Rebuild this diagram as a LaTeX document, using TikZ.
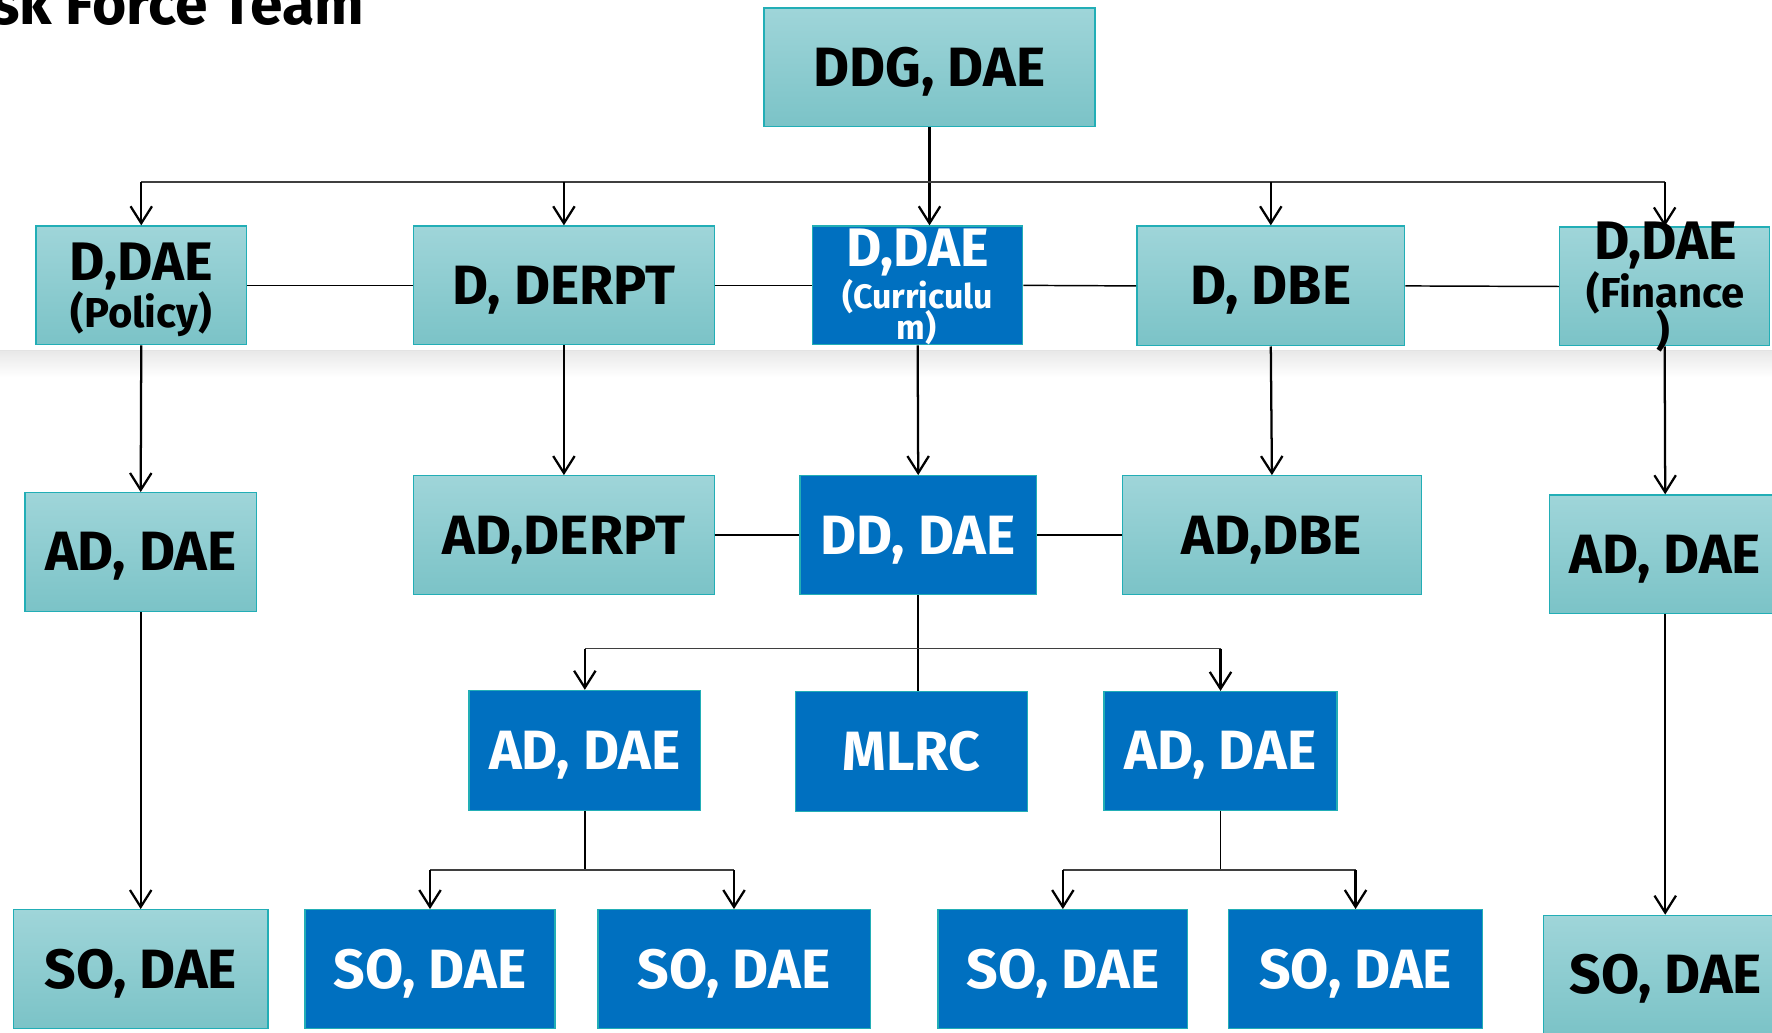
\documentclass[tikz,border=0pt]{standalone}
\usepackage{fontspec}
\setmainfont{Fira Sans}
\usetikzlibrary{arrows.meta}
\definecolor{tealtop}{HTML}{9FD5D9}
\definecolor{tealbot}{HTML}{7BC3C7}
\definecolor{tealedge}{HTML}{22AEB6}
\definecolor{bluefill}{HTML}{0070C0}
\definecolor{busgray}{HTML}{3F3F3F}
\tikzset{
  boxbase/.style={inner sep=0pt, line width=1.2pt, draw=tealedge, align=center,
    font=\bfseries\fontsize{49}{49}\selectfont, text height=33.5pt, text depth=0pt},
  tealbox/.style={boxbase, top color=tealtop, bottom color=tealbot, text=black},
  bluebox/.style={boxbase, fill=bluefill, text=white},
  bigtxt/.style={inner sep=0pt, anchor=base, font=\bfseries\fontsize{48}{48}\selectfont},
  midtxt/.style={inner sep=0pt, anchor=base, font=\bfseries\fontsize{37}{37}\selectfont},
  smalltxt/.style={inner sep=0pt, anchor=base, font=\bfseries\fontsize{30}{30}\selectfont},
  arr/.style={line width=2pt, black, -{Straight Barb[length=15pt,width=19pt,line width=2pt]}},
  busline/.style={line width=1.4pt, busgray},
  link/.style={line width=1.3pt, black},
}
\newcommand{\bx}[7]{% style, name, x1, y1, x2, y2, text
  \node[#1, minimum width=#5pt-#3pt, minimum height=#6pt-#4pt] (#2) at ({(#3+#5)/2},{(#4+#6)/2}) {#7};}
\begin{document}
\begin{tikzpicture}[x=1pt,y=-1pt]
\useasboundingbox (0,0) rectangle (1568,914);
\fill[white] (0,0) rectangle (1568,914);
% faint band
\shade[top color=black!9, bottom color=white] (0,310) rectangle (1568,334);
\draw[black!11, line width=1pt] (0,310) -- (1568,310);
% title
\node[inner sep=0pt, anchor=base west, font=\bfseries\fontsize{52}{52}\selectfont] (title) at (-8,22) {sk Force Team};
% boxes
\bx{tealbox}{ddg}{676}{7}{969}{112}{DDG, DAE}
\bx{tealbox}{pol}{32}{200}{218}{305}{}
\bx{tealbox}{derpt}{366}{200}{632}{305}{D, DERPT}
\bx{bluebox}{cur}{719}{200}{905}{305}{}
\bx{tealbox}{dbe}{1006}{200}{1243}{306}{D, DBE}
\bx{tealbox}{fin}{1380}{201}{1566}{306}{}
\bx{tealbox}{adl}{22}{436}{227}{541}{AD, DAE}
\bx{tealbox}{adderpt}{366}{421}{632}{526}{AD,DERPT}
\bx{bluebox}{dd}{708}{421}{917}{526}{DD, DAE}
\bx{tealbox}{addbe}{993}{421}{1258}{526}{AD,DBE}
\bx{tealbox}{adr}{1371}{438}{1576}{543}{AD, DAE}
\bx{bluebox}{adone}{415}{611}{620}{717}{AD, DAE}
\bx{bluebox}{mlrc}{704}{612}{909}{718}{MLRC}
\bx{bluebox}{adtwo}{977}{612}{1183}{717}{AD, DAE}
\bx{tealbox}{soone}{12}{805}{237}{910}{SO, DAE}
\bx{bluebox}{sotwo}{270}{805}{491}{910}{SO, DAE}
\bx{bluebox}{sothree}{529}{805}{770}{910}{SO, DAE}
\bx{bluebox}{sofour}{830}{805}{1051}{910}{SO, DAE}
\bx{bluebox}{sofive}{1087}{805}{1312}{910}{SO, DAE}
\bx{tealbox}{sosix}{1366}{810}{1582}{915}{SO, DAE}
% multi-line texts
\node[bigtxt] (polA) at (125,248) {D,DAE};
\node[midtxt] (polB) at (125,290) {(Policy)};
\node[bigtxt, text=white] (curA) at (812,236) {D,DAE};
\node[smalltxt, text=white] (curB) at (812,273) {(Curriculu};
\node[smalltxt, text=white] (curC) at (811,300) {m)};
\node[bigtxt] (finA) at (1474,230) {D,DAE};
\node[midtxt] (finB) at (1474,272) {(Finance};
\node[midtxt] (finC) at (1472,306) {)};
% top level
\coordinate (busA) at (0,161);
\draw[arr] (ddg.south) -- (ddg.south |- cur.north);
\draw[busline] (pol.north |- busA) -- (fin.north |- busA);
\draw[arr] (pol.north |- busA) -- (pol.north);
\draw[arr] (derpt.north |- busA) -- (derpt.north);
\draw[arr] (dbe.north |- busA) -- (dbe.north);
\draw[arr] (fin.north |- busA) -- (fin.north);
% row 2 links
\draw[link] (pol.east) -- (derpt.west);
\draw[link] (derpt.east) -- (cur.west);
\draw[link] (cur.east) -- (dbe.west);
\draw[link] (dbe.east) -- (fin.west);
% row 2 -> row 3
\draw[arr] (pol.south) -- (adl.north);
\draw[arr] (derpt.south) -- (adderpt.north);
\draw[arr] (cur.south) -- (dd.north);
\draw[arr] (dbe.south) -- (addbe.north);
\draw[arr] (fin.south) -- (adr.north);
% row 3 links
\draw[link] (adderpt.east) -- (dd.west);
\draw[link] (dd.east) -- (addbe.west);
% row 3 -> row 4
\coordinate (busB) at (0,574);
\draw[link] (dd.south) -- (dd.south |- mlrc.north);
\draw[busline] (adone.north |- busB) -- (adtwo.north |- busB);
\draw[arr] (adone.north |- busB) -- (adone.north);
\draw[arr] (adtwo.north |- busB) -- (adtwo.north);
% row 4 -> row 5
\coordinate (busC) at (0,770);
\draw[link] (adone.south) -- (adone.south |- busC);
\draw[busline] (sotwo.north |- busC) -- (sothree.north |- busC);
\draw[arr] (sotwo.north |- busC) -- (sotwo.north);
\draw[arr] (sothree.north |- busC) -- (sothree.north);
\draw[link] (adtwo.south) -- (adtwo.south |- busC);
\draw[busline] (sofour.north |- busC) -- (sofive.north |- busC);
\draw[arr] (sofour.north |- busC) -- (sofour.north);
\draw[arr] (sofive.north |- busC) -- (sofive.north);
% long arrows
\draw[arr] (adl.south) -- (soone.north);
\draw[arr] (adr.south) -- (adr.south |- sosix.north);
\end{tikzpicture}
\end{document}
